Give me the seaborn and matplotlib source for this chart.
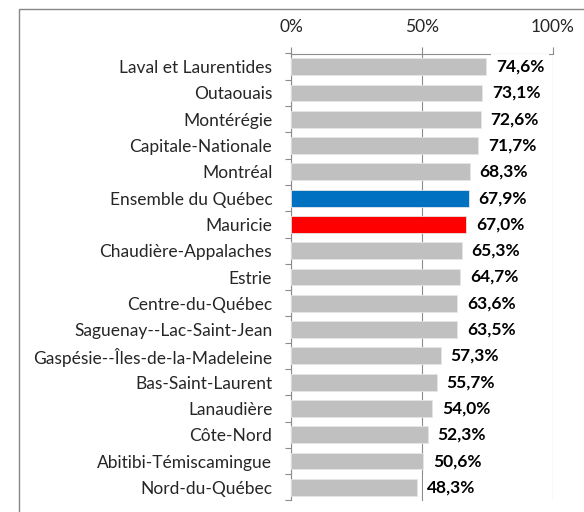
import numpy as np
import seaborn as sns
import matplotlib.pyplot as plt
from matplotlib.patches import Rectangle

# regions and share (%)
regions = ['Laval et Laurentides', 'Outaouais', 'Montérégie', 'Capitale-Nationale',
           'Montréal', 'Ensemble du Québec', 'Mauricie', 'Chaudière-Appalaches',
           'Estrie', 'Centre-du-Québec', 'Saguenay--Lac-Saint-Jean',
           'Gaspésie--Îles-de-la-Madeleine', 'Bas-Saint-Laurent', 'Lanaudière',
           'Côte-Nord', 'Abitibi-Témiscamingue', 'Nord-du-Québec']
values = [74.6, 73.1, 72.6, 71.7, 68.3, 67.9, 67.0, 65.3, 64.7, 63.6, 63.5,
          57.3, 55.7, 54.0, 52.3, 50.6, 48.3]
xticks = [0, 50, 100]
xtick_labels = ['0%', '50%', '100%']

# colour per region: Québec in blue, Mauricie in red, rest in grey
bar_colors = {r: '#C0C0C0' for r in regions}
bar_colors['Ensemble du Québec'] = '#0070C0'
bar_colors['Mauricie'] = '#FF0000'

sns.set_style('white')
plt.rcParams['font.family'] = ['Lato', 'DejaVu Sans']
axis_grey = '#8C8C8C'
fs = 12.5

fig = plt.figure(figsize=(5.84, 5.12), dpi=100)
ax = fig.add_axes([291 / 584, 1 - 500.5 / 512, 261.5 / 584, 447 / 512])

sns.barplot(x=values, y=regions, hue=regions, palette=bar_colors, orient='h',
            legend=False, width=0.64, saturation=1, edgecolor='#E6E6E6',
            linewidth=0.6, ax=ax, zorder=3)

ax.set_xlim(0, 100)
ax.set_ylim(len(regions) - 0.5, -0.5)
ax.set_xlabel('')
ax.set_ylabel('')

# x axis on top, with grid lines
ax.xaxis.tick_top()
ax.set_xticks(xticks)
ax.set_xticklabels(xtick_labels)
ax.grid(axis='x', color=axis_grey, linewidth=0.8, zorder=0)
ax.grid(axis='y', visible=False)
ax.tick_params(axis='x', which='major', top=True, bottom=False, direction='out',
               length=5, width=0.8, color=axis_grey, pad=8, labelsize=fs)

# y ticks between categories
ax.set_yticks(np.arange(-0.5, len(regions)), minor=True)
ax.tick_params(axis='y', which='major', length=0, pad=13.5, labelsize=fs)
ax.tick_params(axis='y', which='minor', left=True, direction='out', length=4.5,
               width=0.8, color=axis_grey)

for side in ['right', 'bottom']:
    ax.spines[side].set_visible(False)
for side in ['left', 'top']:
    ax.spines[side].set_color(axis_grey)
    ax.spines[side].set_linewidth(0.8)

# data labels
for cont in ax.containers:
    lbls = [f'{b.get_width():.1f}%'.replace('.', ',') for b in cont]
    ax.bar_label(cont, labels=lbls, padding=7, fontsize=fs, fontweight='bold',
                 color='black', zorder=5,
                 bbox=dict(boxstyle='square,pad=0.25', fc='white', ec='none'))

# outer chart frame (cropped at right and bottom)
fig.patches.append(Rectangle((18.5 / 584, -0.1), 2, 0.1 + 1 - 8.5 / 512,
                             transform=fig.transFigure, fill=False,
                             edgecolor='#868686', linewidth=1.0))

fig.savefig('out.png', dpi=100)
